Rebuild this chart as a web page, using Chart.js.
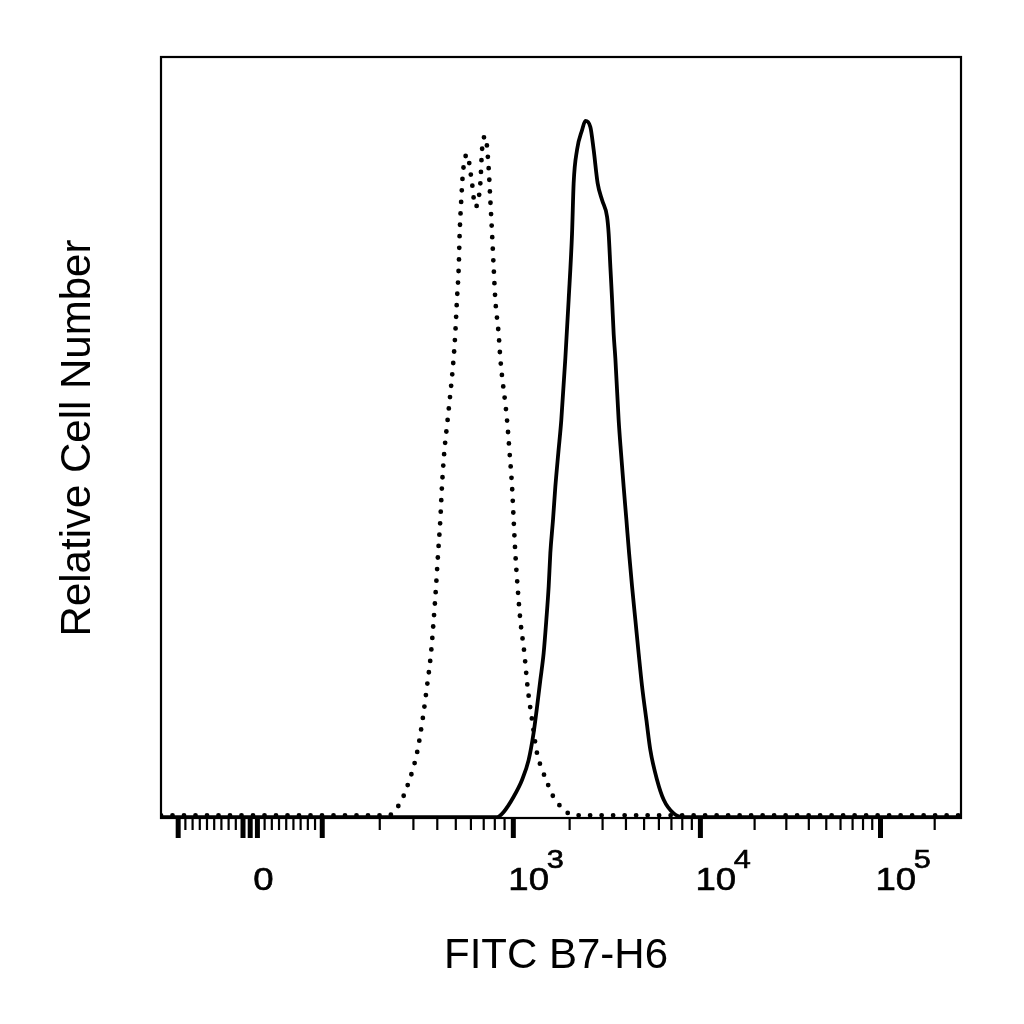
<!DOCTYPE html>
<html>
<head>
<meta charset="utf-8">
<script src="https://cdn.jsdelivr.net/npm/chart.js@4.4.1/dist/chart.umd.min.js"></script>
<style>
  html, body { margin: 0; padding: 0; background: #fff; }
  #histo { display: block; }
</style>
</head>
<body>
<canvas id="histo" width="1024" height="1024"></canvas>
<script>
// FITC intensity where each point was read, and relative cell number (0-100 of the plot height)
const isotypeX = [-123, 222, 256, 278, 313, 335, 353, 371, 383, 394, 404, 415, 423, 435, 453,
  487, 497, 507, 518, 524, 534, 545, 572, 608, 632, 672, 686, 713, 742, 758, 774, 789, 805, 838, 855,
  927, 956, 985, 1004, 1025, 1054, 1090, 1145, 1192, 1259, 1339, 1429, 1520, 1636, 1828, 2093, 280000];
const isotypeY = [0.35, 0.35, 2.0, 4.1, 8.5, 12.9, 17.2, 21.7, 26.0, 30.4, 34.8, 39.2, 43.5, 48.0, 52.3,
  60.4, 63.7, 68.1, 72.4, 76.9, 81.2, 84.8, 87.2, 83.4, 80.3, 83.4, 87.8, 89.6, 85.6, 81.2, 76.8, 72.4, 68.1, 63.6, 60.4,
  52.3, 48.0, 43.5, 39.2, 34.8, 30.4, 26.0, 21.7, 17.2, 12.9, 8.5, 6.3, 4.6, 2.8, 1.3, 0.35, 0.35];

const b7h6X = [-123, 822, 890, 1004, 1113, 1207, 1284, 1339, 1394, 1453, 1501, 1545, 1577, 1630, 1677,
  1740, 1805, 1897, 1976, 2060, 2101, 2191, 2331, 2427, 2581, 2688, 2824, 2981, 3170, 3233, 3302, 3372,
  3439, 3511, 3656, 3766, 3889, 4021, 4157, 4313, 4492, 4677, 4877, 5143, 5403, 5867, 6366, 7197, 8142, 280000];
const b7h6Y = [0.1, 0.1, 0.8, 2.8, 5.0, 7.6, 11.2, 14.6, 18.1, 21.7, 26.0, 30.4, 34.8, 39.2, 43.5,
  48.0, 52.3, 60.4, 68.1, 76.8, 83.4, 87.8, 90.4, 91.6, 90.8, 87.8, 83.4, 81.2, 79.0, 76.8, 72.4, 68.1,
  63.6, 60.4, 52.3, 47.9, 43.5, 39.2, 34.8, 30.4, 26.0, 21.6, 17.3, 12.9, 8.9, 5.0, 2.4, 0.6, 0.1, 0.1];

// axis ticks and labels
const majorTicks = [-100, -10, 0, 10, 100, 1000, 10000, 100000];
const minorTicks = [];
for (let m = 2; m <= 9; m++) minorTicks.push(-m * 10, m * 10, m * 100, m * 1000, m * 10000);
minorTicks.push(200000);
const labelValues = [0, 1000, 10000, 100000];
const labelBase = ['0', '10', '10', '10'];
const labelExp = ['', '3', '4', '5'];

const X_MIN = -123, X_MAX = 280000;

// biexponential-ish display transform: linear around zero, log per decade above |100|
function biex(v) {
  const a = Math.abs(v);
  if (a <= 100) return v * 0.72;
  const widths = [191, 187, 180];
  let d = Math.log10(a / 100), out = 72, i = 0;
  while (d > 0) {
    const step = Math.min(d, 1);
    out += step * widths[Math.min(i, widths.length - 1)];
    d -= step; i++;
  }
  return Math.sign(v) * out;
}

class BiexScale extends Chart.LinearScale {
  getPixelForValue(value) {
    const lo = biex(this.min), hi = biex(this.max);
    return this.getPixelForDecimal((biex(value) - lo) / (hi - lo));
  }
}
BiexScale.id = 'biex';
BiexScale.defaults = Chart.LinearScale.defaults;
Chart.register(BiexScale);

const FONT = '"Liberation Sans", Arial, Helvetica, sans-serif';

const flowAxes = {
  id: 'flowAxes',
  afterDraw(chart) {
    const { ctx, chartArea: a, scales: { x } } = chart;
    ctx.save();
    ctx.strokeStyle = '#000';
    ctx.fillStyle = '#000';

    // frame
    ctx.lineWidth = 2.2;
    ctx.strokeRect(a.left, a.top, a.right - a.left, a.bottom - a.top);

    // ticks
    const tick = (v, len, w) => {
      const px = x.getPixelForValue(v);
      if (px < a.left || px > a.right) return;
      ctx.lineWidth = w;
      ctx.beginPath();
      ctx.moveTo(px, a.bottom);
      ctx.lineTo(px, a.bottom + len);
      ctx.stroke();
    };
    minorTicks.forEach(v => tick(v, 12, 2.2));
    majorTicks.forEach(v => tick(v, 20, 5));

    // tick labels (stretched, with superscript exponents)
    labelValues.forEach((v, i) => {
      const px = x.getPixelForValue(v) + (i === 0 ? 3 : -5);
      ctx.save();
      ctx.translate(px, 890);
      ctx.scale(1.18, 1);
      ctx.textAlign = 'left';
      ctx.textBaseline = 'alphabetic';
      ctx.lineWidth = 0.6;
      ctx.font = '31px ' + FONT;
      ctx.fillText(labelBase[i], 0, 0);
      ctx.strokeText(labelBase[i], 0, 0);
      if (labelExp[i]) {
        const w = ctx.measureText(labelBase[i]).width;
        ctx.font = '26px ' + FONT;
        ctx.fillText(labelExp[i], w - 2, -22);
        ctx.strokeText(labelExp[i], w - 2, -22);
      }
      ctx.restore();
    });

    // axis titles
    ctx.font = '42px ' + FONT;
    ctx.textAlign = 'center';
    ctx.textBaseline = 'alphabetic';
    ctx.fillText('FITC B7-H6', 556, 968);
    ctx.save();
    ctx.translate(90, 438);
    ctx.rotate(-Math.PI / 2);
    ctx.fillText('Relative Cell Number', 0, 0);
    ctx.restore();

    ctx.restore();
  }
};

new Chart(document.getElementById('histo'), {
  type: 'line',
  data: {
    datasets: [
      {
        label: 'Isotype control',
        data: isotypeX.map((x, i) => ({ x, y: isotypeY[i] })),
        borderColor: '#000',
        borderWidth: 4.8,
        borderDash: [0, 11.5],
        borderCapStyle: 'round',
        pointRadius: 0,
        fill: false,
        cubicInterpolationMode: 'monotone'
      },
      {
        label: 'B7-H6',
        data: b7h6X.map((x, i) => ({ x, y: b7h6Y[i] })),
        borderColor: '#000',
        borderWidth: 3.8,
        pointRadius: 0,
        fill: false,
        cubicInterpolationMode: 'monotone'
      }
    ]
  },
  options: {
    responsive: false,
    animation: false,
    events: [],
    layout: { padding: { left: 161, top: 57, right: 63, bottom: 206 } },
    plugins: { legend: { display: false }, tooltip: { enabled: false } },
    scales: {
      x: { type: 'biex', min: X_MIN, max: X_MAX, display: false },
      y: { type: 'linear', min: 0, max: 100, display: false }
    }
  },
  plugins: [flowAxes]
});
</script>
</body>
</html>
